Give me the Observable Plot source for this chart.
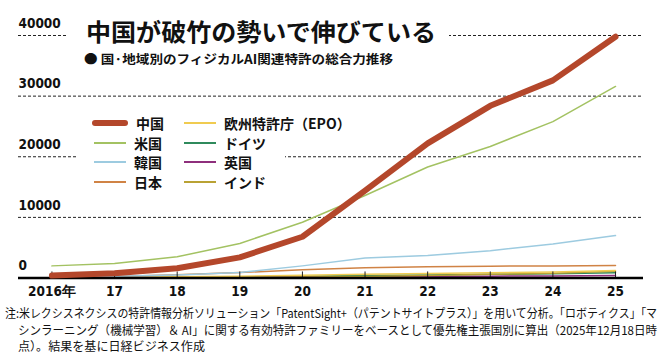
<!DOCTYPE html>
<html><head><meta charset="utf-8">
<script src="https://cdn.jsdelivr.net/npm/d3@7"></script>
<script src="https://cdn.jsdelivr.net/npm/@observablehq/plot@0.6"></script>
<style>
body{margin:0;background:#fff;}
#wrap{position:relative;width:661px;height:358px;overflow:hidden;background:#fff;font-family:"Noto Sans CJK JP","Noto Sans",sans-serif;color:#111;}
#chart{position:absolute;left:0;top:0;}
.fit{position:absolute;white-space:nowrap;transform-origin:0 50%;}
.box{position:absolute;background:#fff;}
.lg{position:absolute;height:20px;display:flex;align-items:center;font-weight:700;font-size:14px;white-space:nowrap;}
.lg .sw{display:inline-block;margin-right:8px;}
svg text{font-family:"Liberation Sans Narrow","DejaVu Sans Condensed",sans-serif;font-weight:700;}
</style></head>
<body>
<div id="wrap">
  <div id="chart"></div>
  <div class="box" style="left:66px;top:16px;width:383px;height:30px;"></div>
  <div class="fit" data-w="350" style="left:86px;top:18.5px;font-size:24px;line-height:24px;font-weight:700;">中国が破竹の勢いで伸びている</div>
  <div class="fit" data-w="309" style="left:84px;top:51.5px;font-size:12.5px;line-height:13px;font-weight:700;">● 国·地域別のフィジカルAI関連特許の総合力推移</div>
  <div class="box" id="legend" style="left:78px;top:110px;width:207px;height:84px;"></div>
  <div id="note"></div>
</div>
<script>
const years = [2016, 2017, 2018, 2019, 2020, 2021, 2022, 2023, 2024, 2025];
const yearLabels = ["2016年", "17", "18", "19", "20", "21", "22", "23", "24", "25"];
const yTicks = [0, 10000, 20000, 30000, 40000];

const seriesNames = ["中国", "米国", "韓国", "日本", "欧州特許庁（EPO）", "ドイツ", "英国", "インド"];
const seriesColors = ["#b4472b", "#a3c262", "#9dcbe0", "#d08345", "#f0cb50", "#2f8a5c", "#8e2f7c", "#b9a234"];

const china   = [400, 800, 1600, 3400, 6800, 14400, 22200, 28400, 32600, 39800];
const us      = [2000, 2400, 3500, 5700, 9200, 13600, 18300, 21700, 25800, 31600];
const korea   = [150, 300, 500, 900, 2000, 3300, 3700, 4500, 5600, 7000];
const japan   = [100, 250, 550, 900, 1350, 1700, 1850, 1950, 2000, 2050];
const epo     = [50, 100, 200, 300, 450, 600, 750, 850, 1000, 1250];
const germany = [30, 60, 120, 200, 300, 400, 500, 600, 700, 850];
const uk      = [20, 40, 70, 100, 150, 200, 250, 300, 350, 400];
const india   = [10, 20, 40, 80, 150, 250, 400, 600, 800, 1100];

const noteLines = [
  "注:米レクシスネクシスの特許情報分析ソリューション「PatentSight+（パテントサイトプラス）」を用いて分析。「ロボティクス」「マ",
  "シンラーニング（機械学習）＆ AI」に関する有効特許ファミリーをベースとして優先権主張国別に算出（2025年12月18日時",
  "点）。結果を基に日経ビジネス作成"
];

const seriesValues = [china, us, korea, japan, epo, germany, uk, india];
const thinOrder = [5, 6, 7, 4, 3, 2, 1];
const thin = thinOrder.flatMap(k => years.map((y, i) => ({series: seriesNames[k], year: y, value: seriesValues[k][i]})));
const chinaData = years.map((y, i) => ({year: y, value: china[i]}));

const chart = Plot.plot({
  width: 661, height: 300,
  marginTop: 35, marginBottom: 22.5, marginLeft: 18, marginRight: 18,
  x: {domain: [2015.466, 2025.447], axis: null},
  y: {domain: [0, 40000], axis: null},
  color: {domain: seriesNames, range: seriesColors},
  style: {background: "transparent", overflow: "visible"},
  marks: [
    Plot.ruleY(yTicks.filter(d => d > 0), {stroke: "#222", strokeWidth: 1, strokeDasharray: "3,2"}),
    Plot.text(yTicks, {y: d => d, text: d => String(d), frameAnchor: "left", textAnchor: "start", dy: -12, fontSize: 13.5, fill: "#111"}),
    Plot.line(thin, {x: "year", y: "value", z: "series", stroke: "series", strokeWidth: 1.5}),
    Plot.ruleX(years, {x: d => d, y1: 0, y2: 1000, stroke: "#222", strokeWidth: 1}),
    Plot.ruleY([0], {stroke: "#000", strokeWidth: 2.5}),
    Plot.line(chinaData, {x: "year", y: "value", stroke: seriesColors[0], strokeWidth: 6, strokeLinejoin: "round", strokeLinecap: "round"}),
    Plot.axisX(years, {tickSize: 0, tickPadding: 8, label: null, tickFormat: d => yearLabels[years.indexOf(d)], fontSize: 13.5, fontWeight: "bold", fill: "#111"})
  ]
});
document.getElementById("chart").appendChild(chart);

// legend
const legend = document.getElementById("legend");
const cols = [[0, 1, 2, 3], [4, 5, 6, 7]];
const colX = [14, 106];
const rowY = [2.7, 22.7, 41.7, 61.7];
cols.forEach((col, c) => col.forEach((k, r) => {
  const d = document.createElement("div");
  d.className = "lg";
  d.style.left = colX[c] + "px";
  d.style.top = (rowY[r]) + "px";
  const sw = document.createElement("span");
  sw.className = "sw";
  const isChina = k === 0;
  sw.style.width = (isChina ? 36 : 32) + "px";
  sw.style.height = (isChina ? 6 : 2) + "px";
  sw.style.borderRadius = isChina ? "3px" : "0";
  sw.style.background = seriesColors[k];
  if (!isChina) sw.style.marginLeft = (c === 0 ? 2 : 0) + "px";
  d.appendChild(sw);
  d.appendChild(document.createTextNode(seriesNames[k]));
  legend.appendChild(d);
}));

// footnote
const note = document.getElementById("note");
const noteX = [5, 18, 18];
const noteW = [652, 639, 187];
const noteY = [313, 330, 346];
noteLines.forEach((t, i) => {
  const d = document.createElement("div");
  d.className = "fit";
  d.dataset.w = noteW[i];
  d.style.left = noteX[i] + "px";
  d.style.top = (noteY[i] - 7) + "px";
  d.style.fontSize = "12px";
  d.style.lineHeight = "14px";
  d.textContent = t;
  note.appendChild(d);
});

function fitAll() {
  document.querySelectorAll(".fit").forEach(el => {
    el.style.transform = "none";
    const w = el.getBoundingClientRect().width;
    const target = +el.dataset.w;
    if (w > 0 && target) el.style.transform = `scaleX(${target / w})`;
  });
}
fitAll();
if (document.fonts && document.fonts.ready) document.fonts.ready.then(fitAll);
</script>
</body></html>
